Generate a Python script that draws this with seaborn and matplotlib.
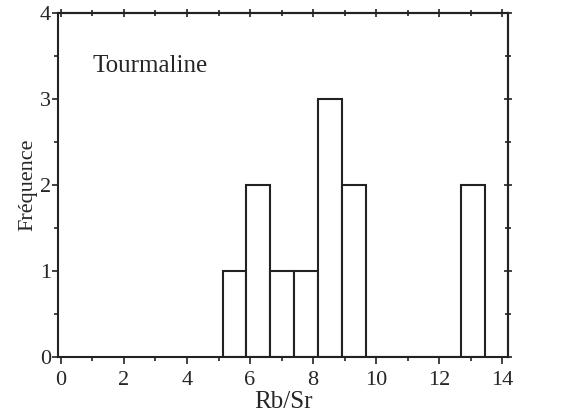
import numpy as np
import pandas as pd
import matplotlib
matplotlib.use("Agg")
import matplotlib.pyplot as plt
import seaborn as sns
from matplotlib.ticker import MultipleLocator

# histogram: 11 equal bins between min and max Rb/Sr
bin_edges = [5.13, 5.887, 6.645, 7.402, 8.16, 8.917, 9.675, 10.432, 11.19, 11.947, 12.705, 13.46]
counts    = [1, 2, 1, 1, 3, 2, 0, 0, 0, 0, 2]
x_label   = "Rb/Sr"
y_label   = "Fréquence"
title_txt = "Tourmaline"

centers = [(a + b) / 2 for a, b in zip(bin_edges[:-1], bin_edges[1:])]
df = pd.DataFrame({"rbsr": centers, "n": counts})

sns.set_style("ticks")
plt.rcParams["font.family"] = ["Liberation Serif", "DejaVu Serif"]

fig = plt.figure(figsize=(5.66, 4.17), dpi=100)
ax = fig.add_axes([58 / 566, 60 / 417, 450 / 566, 344 / 417])

sns.histplot(
    data=df, x="rbsr", weights="n", bins=bin_edges,
    stat="count", fill=True, color="white", edgecolor="#222222",
    linewidth=1.5, alpha=1, ax=ax,
)

ax.set_xlim(-0.095, 14.19)
ax.set_ylim(0, 4)

for side in ["left", "right", "top", "bottom"]:
    ax.spines[side].set_visible(True)
    ax.spines[side].set_linewidth(1.5)
    ax.spines[side].set_color("#222222")

# bottom / left: outward ticks with labels
ax.xaxis.set_major_locator(MultipleLocator(2))
ax.xaxis.set_minor_locator(MultipleLocator(1))
ax.yaxis.set_major_locator(MultipleLocator(1))
ax.yaxis.set_minor_locator(MultipleLocator(0.5))
ax.tick_params(which="both", direction="out", color="#222222", width=1.2,
               labelsize=16)
ax.tick_params(axis="x", which="major", length=5, pad=5)
ax.tick_params(axis="x", which="minor", length=3)
ax.tick_params(axis="y", which="major", length=4, pad=1)
ax.tick_params(axis="y", which="minor", length=3)

# top / right: crossing ticks, no labels
top = ax.secondary_xaxis("top")
right = ax.secondary_yaxis("right")
top.xaxis.set_major_locator(MultipleLocator(2))
top.xaxis.set_minor_locator(MultipleLocator(1))
right.yaxis.set_major_locator(MultipleLocator(1))
right.yaxis.set_minor_locator(MultipleLocator(0.5))
for sec in (top, right):
    sec.tick_params(which="both", direction="inout", color="#222222",
                    width=1.2, labelleft=False, labelright=False,
                    labeltop=False, labelbottom=False)
    sec.tick_params(which="major", length=6)
    sec.tick_params(which="minor", length=4)
    for s in sec.spines.values():
        s.set_linewidth(1.5)
        s.set_color("#222222")

ax.set_xlabel(x_label, fontsize=18, labelpad=1)
ax.set_ylabel(y_label, fontsize=16, labelpad=2)
ax.text(1.0, 3.31, title_txt, fontsize=18, ha="left", va="baseline")

fig.savefig("out.png", dpi=100)
